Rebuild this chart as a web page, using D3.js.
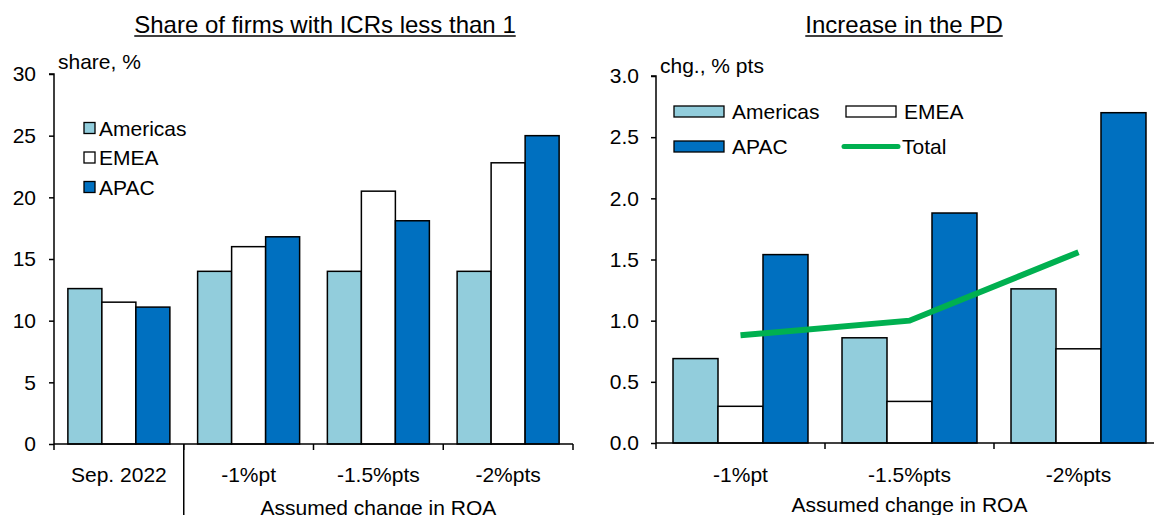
<!DOCTYPE html>
<html>
<head>
<meta charset="utf-8">
<script src="https://cdn.jsdelivr.net/npm/d3@7"></script>
<style>
  html, body { margin: 0; padding: 0; background: #fff; }
  svg { display: block; font-family: "Liberation Sans", Arial, sans-serif; }
</style>
</head>
<body>
<svg id="chart" width="1154" height="515"></svg>
<script>
// ---------- data ----------
const series = ["Americas", "EMEA", "APAC"];
const colors = ["#92CDDC", "#FFFFFF", "#0070C0"];

const leftCategories = ["Sep. 2022", "-1%pt", "-1.5%pts", "-2%pts"];
const leftAmericas = [12.6, 14.0, 14.0, 14.0];
const leftEMEA     = [11.5, 16.0, 20.5, 22.8];
const leftAPAC     = [11.1, 16.8, 18.1, 25.0];
const leftTicks = [0, 5, 10, 15, 20, 25, 30];

const rightCategories = ["-1%pt", "-1.5%pts", "-2%pts"];
const rightAmericas = [0.69, 0.86, 1.26];
const rightEMEA     = [0.30, 0.34, 0.77];
const rightAPAC     = [1.54, 1.88, 2.70];
const rightTotal    = [0.88, 1.00, 1.56];
const rightTicks = [0, 0.5, 1.0, 1.5, 2.0, 2.5, 3.0];

const leftTitle = "Share of firms with ICRs less than 1";
const rightTitle = "Increase in the PD";
const leftUnit = "share, %";
const rightUnit = "chg., % pts";
const xTitle = "Assumed change in ROA";

// ---------- drawing ----------
const svg = d3.select("#chart");
const FS = 21;

function drawPanel(opts) {
  const g = svg.append("g");
  const x0 = d3.scaleBand().domain(opts.categories).range(opts.xRange).padding(0);
  const x1 = d3.scaleBand().domain(series).range([0, x0.bandwidth()])
    .paddingInner(0).paddingOuter(opts.innerPad);
  const y = d3.scaleLinear().domain(opts.yDomain).range(opts.yRange);

  const rows = opts.categories.map((c, i) => ({
    cat: c,
    vals: series.map((s, k) => ({ s, k, v: opts.values[k][i] }))
  }));

  // bars
  const grp = g.selectAll("g.cat").data(rows).join("g")
    .attr("transform", d => `translate(${x0(d.cat)},0)`);
  grp.selectAll("rect").data(d => d.vals).join("rect")
    .attr("x", d => x1(d.s))
    .attr("y", d => y(d.v))
    .attr("width", x1.bandwidth())
    .attr("height", d => y(0) - y(d.v))
    .attr("fill", d => colors[d.k])
    .attr("stroke", "#000")
    .attr("stroke-width", 1.5);

  // y axis
  const yAxis = d3.axisLeft(y).tickValues(opts.ticks).tickSize(5)
    .tickPadding(opts.tickPad).tickFormat(opts.fmt);
  const ya = g.append("g").attr("transform", `translate(${opts.xRange[0]},0)`).call(yAxis);
  ya.select(".domain").attr("stroke", "#000").attr("stroke-width", 1.5)
    .attr("d", `M-5,${y(opts.yDomain[1])}H0V${y(0)}`);
  ya.selectAll(".tick line").attr("stroke", "#000").attr("stroke-width", 1.5);
  ya.selectAll(".tick text").attr("font-size", FS).attr("fill", "#000")
    .attr("font-family", "Liberation Sans, Arial, sans-serif");

  // x axis line and boundary ticks
  const y0 = y(0);
  g.append("line").attr("x1", opts.xRange[0]).attr("x2", opts.xRange[1])
    .attr("y1", y0).attr("y2", y0).attr("stroke", "#000").attr("stroke-width", 1.5);
  const bounds = opts.categories.map(c => x0(c)).concat([x0(opts.categories[opts.categories.length - 1]) + x0.bandwidth()]);
  g.selectAll("line.xt").data(bounds).join("line")
    .attr("x1", d => d).attr("x2", d => d)
    .attr("y1", y0).attr("y2", y0 + 6)
    .attr("stroke", "#000").attr("stroke-width", 1.5);

  // category labels
  g.selectAll("text.cl").data(opts.categories).join("text")
    .attr("x", d => x0(d) + x0.bandwidth() / 2)
    .attr("y", 482)
    .attr("text-anchor", "middle")
    .attr("font-size", FS)
    .text(d => d);

  // unit label
  g.append("text").attr("x", opts.xRange[0] + 4).attr("y", opts.unitY)
    .attr("font-size", FS).text(opts.unit);

  // title (underlined)
  const t = g.append("text").attr("x", opts.titleX).attr("y", 33)
    .attr("text-anchor", "middle").attr("font-size", 24).text(opts.title);
  const bb = t.node().getBBox();
  g.append("line").attr("x1", bb.x).attr("x2", bb.x + bb.width)
    .attr("y1", 36).attr("y2", 36).attr("stroke", "#000").attr("stroke-width", 1.5);

  return { g, x0, x1, y };
}

// left panel
const L = drawPanel({
  categories: leftCategories,
  values: [leftAmericas, leftEMEA, leftAPAC],
  xRange: [54, 573], innerPad: 0.408,
  yDomain: [0, 30], yRange: [444, 74],
  ticks: leftTicks, fmt: d3.format("d"), tickPad: 13,
  unit: leftUnit, unitY: 69, title: leftTitle, titleX: 325
});
// separator between actual and scenarios
const sepX = L.x0(leftCategories[1]);
L.g.append("line").attr("x1", sepX).attr("x2", sepX).attr("y1", 444).attr("y2", 515)
  .attr("stroke", "#000").attr("stroke-width", 1.5);
const leftScen = leftCategories.slice(1);
L.g.append("text")
  .attr("x", (L.x0(leftScen[0]) + L.x0(leftScen[leftScen.length - 1]) + L.x0.bandwidth()) / 2)
  .attr("y", 515).attr("text-anchor", "middle").attr("font-size", FS).text(xTitle);

// left legend
const leftLeg = L.g.append("g");
series.forEach((s, k) => {
  const cy = 128 + k * 29.5;
  leftLeg.append("rect").attr("x", 84).attr("y", cy - 5.5).attr("width", 11).attr("height", 11)
    .attr("fill", colors[k]).attr("stroke", "#000").attr("stroke-width", 1.3);
  leftLeg.append("text").attr("x", 99).attr("y", cy + 7.5).attr("font-size", FS).text(s);
});

// right panel
const R = drawPanel({
  categories: rightCategories,
  values: [rightAmericas, rightEMEA, rightAPAC],
  xRange: [656, 1163], innerPad: 0.378,
  yDomain: [0, 3], yRange: [443, 76],
  ticks: rightTicks, fmt: d3.format(".1f"), tickPad: 12,
  unit: rightUnit, unitY: 73, title: rightTitle, titleX: 904
});
R.g.append("text")
  .attr("x", R.x0(rightCategories[1]) + R.x0.bandwidth() / 2)
  .attr("y", 512).attr("text-anchor", "middle").attr("font-size", FS).text(xTitle);

// total line
const line = d3.line()
  .x((d, i) => R.x0(rightCategories[i]) + R.x0.bandwidth() / 2)
  .y(d => R.y(d));
R.g.append("path").datum(rightTotal).attr("d", line)
  .attr("fill", "none").attr("stroke", "#00B050").attr("stroke-width", 6);

// right legend
const rl = R.g.append("g");
const legItems = [
  { name: "Americas", type: "rect", k: 0, x: 674, cy: 111.5 },
  { name: "EMEA", type: "rect", k: 1, x: 846, cy: 111.5 },
  { name: "APAC", type: "rect", k: 2, x: 674, cy: 146.5 },
  { name: "Total", type: "line", x: 844, cy: 146.5 }
];
legItems.forEach(it => {
  if (it.type === "rect") {
    rl.append("rect").attr("x", it.x).attr("y", it.cy - 5.5).attr("width", 50).attr("height", 11)
      .attr("fill", colors[it.k]).attr("stroke", "#000").attr("stroke-width", 1.3);
  } else {
    rl.append("line").attr("x1", it.x).attr("x2", it.x + 54).attr("y1", it.cy).attr("y2", it.cy)
      .attr("stroke", "#00B050").attr("stroke-width", 5).attr("stroke-linecap", "round");
  }
  rl.append("text").attr("x", it.x + 58).attr("y", it.cy + 7.5).attr("font-size", FS).text(it.name);
});
</script>
</body>
</html>
